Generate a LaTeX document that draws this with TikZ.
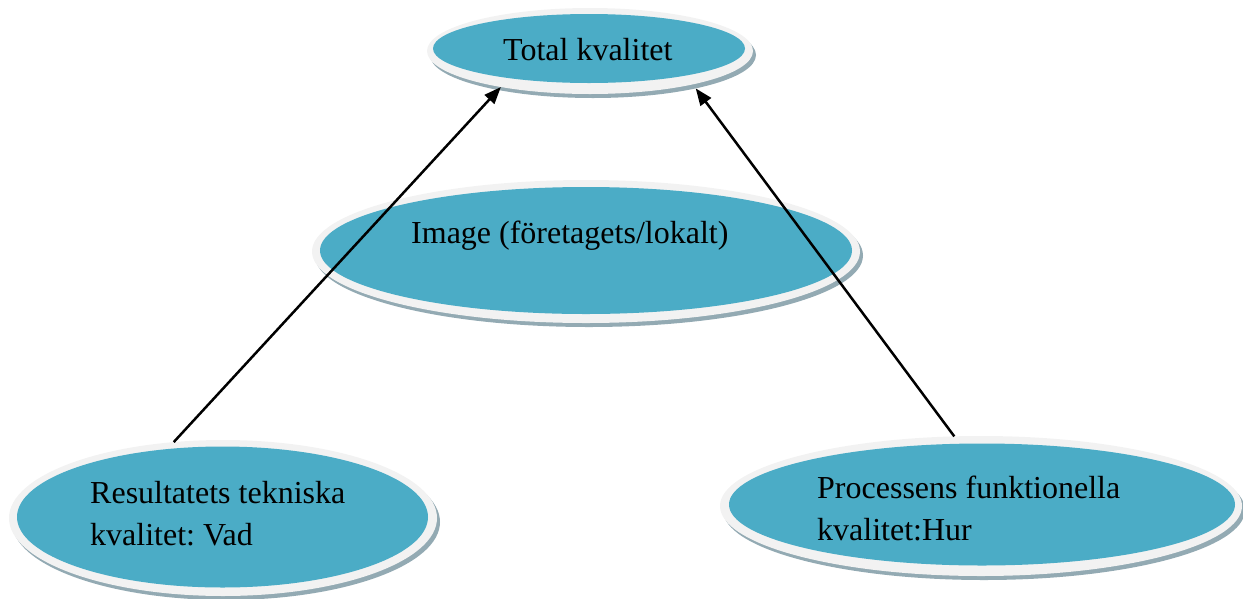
\documentclass[tikz,border=0pt]{standalone}
\usepackage{fontspec}
\setmainfont{Liberation Serif}
\usetikzlibrary{shapes.geometric,arrows.meta}
\definecolor{discteal}{HTML}{4BACC6}
\definecolor{discrim}{HTML}{F2F2F2}
\definecolor{discshade}{HTML}{93AAB3}
\frenchspacing
\tikzset{
  disc/.style={ellipse, inner sep=0pt, outer sep=0pt, draw=none},
  shade/.style={disc, fill=discshade},
  rim/.style={disc, fill=discrim},
  face/.style={disc, fill=discteal},
  label/.style={anchor=base west, inner sep=0pt, font=\fontsize{32}{42}\selectfont},
  link/.style={line width=2.5pt, -{Triangle[length=17pt,width=13pt]}}
}
\begin{document}
\begin{tikzpicture}[x=1pt, y=-1pt]
  \useasboundingbox (0,0) rectangle (1243,598);

  % top disc
  \node[shade, minimum width=326pt, minimum height=86pt] (total-sh) at (593,55) {};
  \node[rim,   minimum width=326pt, minimum height=86pt] (total)    at (590,51) {};
  \node[face,  minimum width=312pt, minimum height=69pt] (total-f)  at (589,48.5) {};
  \node[label] (total-t) at (503,60) {Total kvalitet};

  % middle disc
  \node[shade, minimum width=548pt, minimum height=143pt] (image-sh) at (589,255.5) {};
  \node[rim,   minimum width=548pt, minimum height=143pt] (image)    at (586,251.5) {};
  \node[face,  minimum width=532pt, minimum height=127pt] (image-f)  at (586,250.5) {};
  \node[label] (image-t) at (411,243) {Image (företagets/lokalt)};

  % lower left disc
  \node[shade, minimum width=428pt, minimum height=156pt] (res-sh) at (226,522) {};
  \node[rim,   minimum width=428pt, minimum height=156pt] (res)    at (223,518) {};
  \node[face,  minimum width=411pt, minimum height=141pt] (res-f)  at (222.5,517) {};
  \node[label] (res-t1) at (90,503) {Resultatets tekniska};
  \node[label] (res-t2) at (90,545) {kvalitet: Vad};

  % lower right disc
  \node[shade, minimum width=522pt, minimum height=140pt] (proc-sh) at (984,510) {};
  \node[rim,   minimum width=522pt, minimum height=140pt] (proc)    at (981,506) {};
  \node[face,  minimum width=506pt, minimum height=122pt] (proc-f)  at (982,504.5) {};
  \node[label] (proc-t1) at (817,498) {Processens funktionella};
  \node[label] (proc-t2) at (817,540) {kvalitet:Hur};

  % connectors
  \draw[link] (res.123.7) -- (total.202.35);
  \draw[link] (proc.111.5) -- (total-sh.342.1);
\end{tikzpicture}
\end{document}
